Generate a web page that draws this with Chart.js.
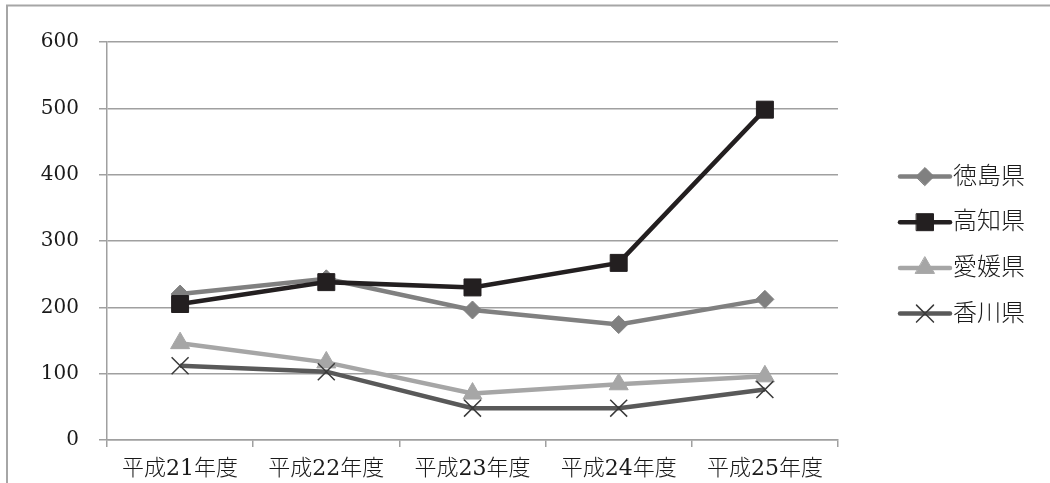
<!DOCTYPE html>
<html>
<head>
<meta charset="utf-8">
<script src="https://cdn.jsdelivr.net/npm/chart.js@4/dist/chart.umd.min.js"></script>
<style>
  body { margin: 0; background: #fff; }
  #wrap { width: 1050px; height: 483px; }
</style>
</head>
<body>
<div id="wrap"><canvas id="prefChart" width="1050" height="483"></canvas></div>
<script>
// fiscal years on the x axis
const years = ['平成21年度', '平成22年度', '平成23年度', '平成24年度', '平成25年度'];

// one array per prefecture
const tokushima = [220, 243, 196, 174, 212];
const kochi = [205, 238, 230, 267, 498];
const ehime = [146, 117, 70, 84, 96];
const kagawa = [112, 103, 48, 48, 76];

const prefNames = ['徳島県', '高知県', '愛媛県', '香川県'];
const yTicks = [0, 100, 200, 300, 400, 500, 600];

const FONT = "'DejaVu Serif', 'Noto Sans CJK JP', serif";
const GRID = '#a0a0a0';

// light frame around the whole chart, like the spreadsheet export
const framePlugin = {
    id: 'frame',
    beforeDraw(chart) {
        const c = chart.ctx;
        c.save();
        c.strokeStyle = '#a6a6a6';
        c.lineWidth = 2;
        c.strokeRect(7, 5.5, 1100, 600);
        c.restore();
    }
};

// legend on the right: short line with the marker in the middle
const sideLegend = {
    id: 'sideLegend',
    afterDraw(chart) {
        const c = chart.ctx;
        chart.data.datasets.forEach((ds, i) => {
            const y = 176.5 + i * 45.7;
            c.save();
            c.strokeStyle = ds.borderColor;
            c.lineWidth = ds.borderWidth;
            c.lineCap = 'round';
            c.beginPath();
            c.moveTo(900, y);
            c.lineTo(950, y);
            c.stroke();
            c.fillStyle = ds.pointBackgroundColor;
            c.strokeStyle = ds.pointBorderColor;
            c.lineWidth = ds.pointBorderWidth;
            if (Chart.helpers && Chart.helpers.drawPoint) {
                Chart.helpers.drawPoint(c, {
                    pointStyle: ds.pointStyle,
                    radius: ds.pointRadius,
                    rotation: 0,
                    borderWidth: ds.pointBorderWidth
                }, 925, y);
            }
            c.fillStyle = '#1a1a1a';
            c.font = '300 24px ' + FONT;
            c.textAlign = 'left';
            c.textBaseline = 'middle';
            c.fillText(ds.label, 953, y + 1);
            c.restore();
        });
    }
};

function series(label, values, color, style, radius, order, markColor, markWidth) {
    return {
        label: label,
        data: values,
        borderColor: color,
        backgroundColor: color,
        borderWidth: 4.5,
        pointStyle: style,
        pointRadius: radius,
        pointHoverRadius: radius,
        pointBackgroundColor: markColor || color,
        pointBorderColor: markColor || color,
        pointBorderWidth: markWidth || 1,
        tension: 0,
        fill: false,
        clip: false,
        order: order
    };
}

const ctx = document.getElementById('prefChart').getContext('2d');

new Chart(ctx, {
    type: 'line',
    data: {
        labels: years,
        datasets: [
            series(prefNames[0], tokushima, '#808080', 'rectRot', 9, 4),
            series(prefNames[1], kochi, '#231f20', 'rect', 12, 3),
            series(prefNames[2], ehime, '#a6a6a6', 'triangle', 11, 2),
            series(prefNames[3], kagawa, '#595959', 'crossRot', 12, 1, '#3a3a3a', 1.5)
        ]
    },
    options: {
        responsive: false,
        animation: false,
        layout: {
            padding: { left: 0, top: 42, right: 212, bottom: 0 }
        },
        plugins: {
            legend: { display: false },
            tooltip: { enabled: false }
        },
        scales: {
            x: {
                offset: true,
                grid: {
                    offset: true,
                    drawOnChartArea: false,
                    color: GRID,
                    lineWidth: 1.5,
                    tickLength: 7
                },
                border: { color: GRID, width: 1.5 },
                ticks: {
                    padding: 9,
                    color: '#1a1a1a',
                    autoSkip: false,
                    maxRotation: 0,
                    font: { family: FONT, size: 22, weight: '300' }
                },
                afterFit(scale) { scale.height = 43; }
            },
            y: {
                min: yTicks[0],
                max: yTicks[yTicks.length - 1],
                afterBuildTicks(scale) {
                    scale.ticks = yTicks.map(v => ({ value: v }));
                },
                grid: {
                    color: GRID,
                    lineWidth: 1.5,
                    tickLength: 8
                },
                border: { color: GRID, width: 1.5 },
                ticks: {
                    padding: 20,
                    color: '#1a1a1a',
                    font: { family: FONT, size: 20 }
                },
                afterFit(scale) { scale.width = 107; }
            }
        }
    },
    plugins: [framePlugin, sideLegend]
});
</script>
</body>
</html>
